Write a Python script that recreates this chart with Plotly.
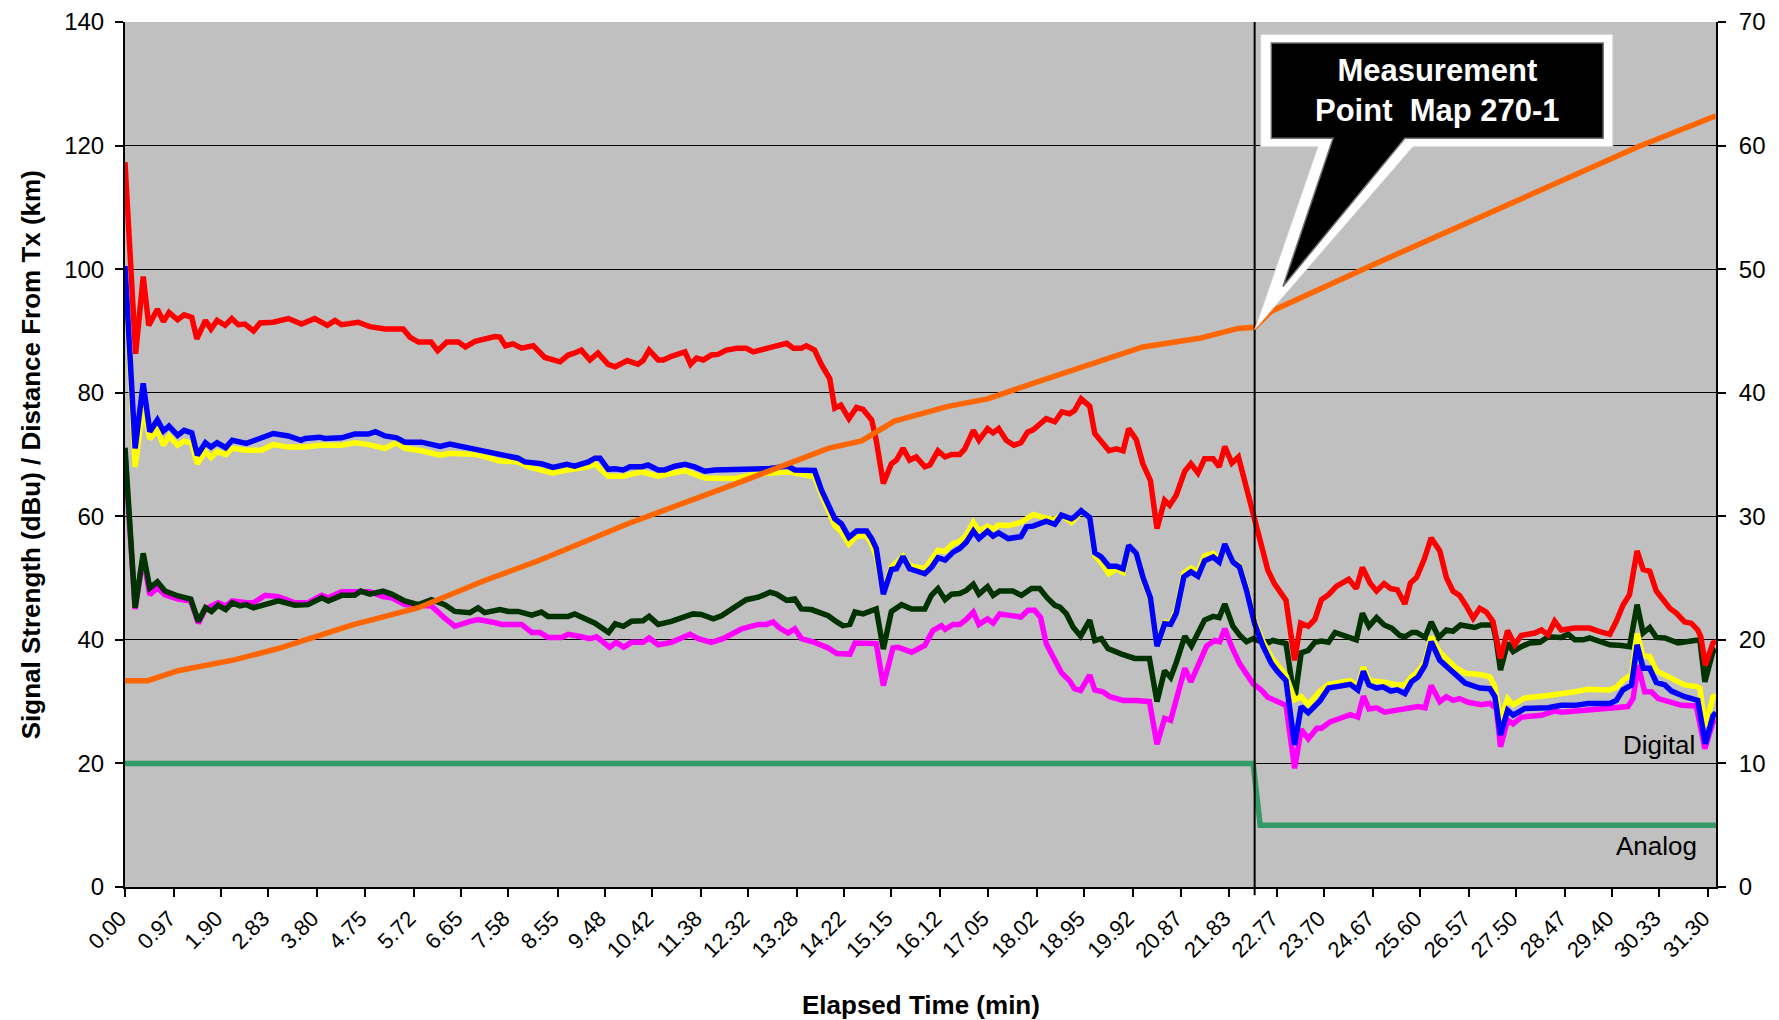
import plotly.graph_objects as go

# ---------------- axis labels ----------------
TICK_TIMES = [0.00, 0.97, 1.90, 2.83, 3.80, 4.75, 5.72, 6.65, 7.58, 8.55, 9.48, 10.42,
              11.38, 12.32, 13.28, 14.22, 15.15, 16.12, 17.05, 18.02, 18.95, 19.92,
              20.87, 21.83, 22.77, 23.70, 24.67, 25.60, 26.57, 27.50, 28.47, 29.40,
              30.33, 31.30]
TICK_TEXT = ["%.2f" % t for t in TICK_TIMES]
X_END = 31.45

# ---------------- series (time in min, signal in dBu) ----------------
RED_T = [0.00, 0.21, 0.36, 0.47, 0.64, 0.76, 0.87, 1.04, 1.17, 1.32,
         1.42, 1.59, 1.70, 1.82, 1.98, 2.11, 2.24, 2.37, 2.54, 2.67,
         2.93, 3.23, 3.49, 3.75, 4.00, 4.15, 4.28, 4.61, 4.84, 5.14,
         5.50, 5.63, 5.80, 6.05, 6.18, 6.36, 6.59, 6.73, 6.92, 7.11,
         7.31, 7.41, 7.52, 7.67, 7.84, 8.07, 8.30, 8.60, 8.76, 8.88,
         9.02, 9.19, 9.35, 9.55, 9.69, 9.93, 10.14, 10.24, 10.36, 10.54,
         10.64, 10.80, 11.07, 11.18, 11.30, 11.43, 11.59, 11.72, 11.89, 12.09,
         12.28, 12.42, 12.58, 12.84, 13.08, 13.21, 13.37, 13.47, 13.63, 13.77,
         13.93, 14.03, 14.15, 14.31, 14.46, 14.59, 14.76, 14.85, 14.99, 15.15,
         15.25, 15.38, 15.51, 15.64, 15.81, 15.91, 16.07, 16.21, 16.34, 16.50,
         16.60, 16.77, 16.88, 17.05, 17.16, 17.27, 17.42, 17.57, 17.71, 17.84,
         17.95, 18.05, 18.21, 18.38, 18.52, 18.67, 18.77, 18.90, 19.07, 19.17,
         19.30, 19.45, 19.60, 19.73, 19.84, 19.99, 20.12, 20.27, 20.40, 20.55,
         20.65, 20.78, 20.95, 21.07, 21.21, 21.34, 21.51, 21.63, 21.74, 21.88,
         22.01, 22.17, 22.30, 22.43, 22.59, 22.72, 22.95, 23.12, 23.24, 23.39,
         23.52, 23.65, 23.79, 23.95, 24.19, 24.34, 24.46, 24.61, 24.74, 24.89,
         25.02, 25.15, 25.30, 25.41, 25.53, 25.68, 25.82, 25.99, 26.12, 26.25,
         26.38, 26.52, 26.65, 26.78, 26.91, 27.04, 27.19, 27.33, 27.47, 27.60,
         27.87, 28.00, 28.13, 28.26, 28.39, 28.66, 28.95, 29.12, 29.35, 29.48,
         29.61, 29.74, 29.89, 30.01, 30.14, 30.27, 30.40, 30.54, 30.67, 30.83,
         30.96, 31.09, 31.15, 31.24, 31.39, 31.45]
RED_V = [117.3, 86.3, 98.8, 90.9, 93.5, 91.5, 93.0, 91.8, 92.6, 92.2,
         88.7, 91.7, 90.3, 91.7, 90.9, 92.0, 91.0, 91.1, 90.0, 91.3,
         91.4, 92.0, 91.1, 92.0, 90.9, 91.7, 91.0, 91.4, 90.7, 90.3,
         90.3, 89.0, 88.2, 88.2, 86.8, 88.2, 88.2, 87.4, 88.3, 88.6,
         89.1, 89.0, 87.6, 87.9, 87.2, 87.6, 85.7, 85.0, 86.1, 86.4,
         86.9, 85.3, 86.4, 84.6, 84.2, 85.2, 84.6, 85.2, 86.9, 85.3,
         85.3, 85.9, 86.6, 84.6, 85.6, 85.3, 86.1, 86.2, 86.9, 87.2,
         87.2, 86.6, 87.0, 87.5, 88.0, 87.2, 87.2, 87.6, 86.9, 84.5,
         82.3, 77.5, 78.0, 75.8, 77.6, 77.3, 75.6, 72.3, 65.3, 68.5,
         69.1, 71.0, 69.1, 69.6, 68.0, 68.3, 70.6, 69.6, 70.0, 70.0,
         70.9, 73.9, 72.3, 74.2, 73.5, 74.2, 72.3, 71.5, 71.9, 73.6,
         74.0, 74.8, 75.8, 75.3, 76.9, 76.6, 77.1, 79.0, 77.8, 73.4,
         72.0, 70.6, 70.9, 70.6, 74.2, 72.4, 68.5, 65.8, 58.0, 62.6,
         61.8, 63.4, 67.3, 68.5, 67.0, 69.3, 69.3, 68.0, 71.3, 68.6,
         69.6, 64.5, 60.7, 56.1, 51.3, 49.1, 46.4, 36.7, 42.7, 42.2,
         43.3, 46.5, 47.3, 48.7, 49.8, 48.3, 51.7, 49.2, 47.9, 49.1,
         48.3, 48.1, 45.8, 49.2, 50.1, 53.0, 56.5, 54.4, 50.1, 47.9,
         47.2, 45.4, 43.5, 45.1, 44.5, 43.0, 37.0, 41.5, 39.2, 40.7,
         41.1, 41.6, 40.8, 43.0, 41.6, 41.9, 41.9, 41.4, 40.9, 43.0,
         45.6, 47.3, 54.4, 51.4, 51.1, 47.9, 46.5, 45.1, 44.3, 42.9,
         42.7, 41.6, 40.5, 35.9, 39.5, 39.7]

BLUE_T = [0.00, 0.20, 0.36, 0.49, 0.64, 0.76, 0.87, 1.04, 1.17, 1.32,
          1.43, 1.59, 1.70, 1.82, 1.99, 2.12, 2.40, 2.70, 2.93, 3.23,
          3.48, 3.56, 3.85, 3.95, 4.28, 4.54, 4.81, 4.95, 5.14, 5.37,
          5.53, 5.86, 6.23, 6.42, 6.72, 6.95, 7.21, 7.38, 7.77, 7.90,
          8.23, 8.46, 8.73, 8.89, 9.16, 9.29, 9.39, 9.55, 9.68, 9.85,
          9.98, 10.21, 10.34, 10.54, 10.67, 10.87, 11.07, 11.26, 11.46, 11.66,
          12.45, 12.71, 12.98, 13.11, 13.24, 13.63, 13.77, 13.93, 14.03, 14.16,
          14.31, 14.46, 14.66, 14.76, 14.85, 14.99, 15.15, 15.25, 15.38, 15.51,
          15.68, 15.81, 15.94, 16.07, 16.21, 16.37, 16.50, 16.63, 16.77, 16.88,
          17.05, 17.16, 17.27, 17.46, 17.71, 17.82, 17.95, 18.21, 18.38, 18.51,
          18.71, 18.77, 18.90, 19.07, 19.17, 19.30, 19.45, 19.60, 19.73, 19.84,
          19.99, 20.12, 20.27, 20.40, 20.55, 20.67, 20.78, 20.93, 21.07, 21.21,
          21.34, 21.51, 21.63, 21.74, 21.90, 22.03, 22.17, 22.33, 22.49, 22.66,
          22.79, 22.95, 23.12, 23.25, 23.39, 23.62, 23.79, 24.05, 24.22, 24.37,
          24.48, 24.59, 24.74, 24.87, 25.02, 25.15, 25.30, 25.43, 25.56, 25.70,
          25.82, 25.99, 26.29, 26.49, 26.78, 26.98, 27.08, 27.19, 27.33, 27.44,
          27.67, 28.13, 28.39, 28.66, 28.92, 29.35, 29.48, 29.61, 29.78, 29.89,
          30.01, 30.14, 30.27, 30.44, 30.57, 30.83, 31.09, 31.24, 31.39, 31.45]
BLUE_V = [100.5, 71.0, 81.5, 73.7, 75.6, 73.8, 74.6, 73.1, 73.9, 73.5,
          69.9, 71.9, 71.2, 71.9, 71.1, 72.3, 71.8, 72.6, 73.4, 73.0,
          72.3, 72.6, 72.8, 72.6, 72.7, 73.3, 73.3, 73.7, 73.0, 72.7,
          72.0, 72.0, 71.3, 71.7, 71.2, 70.8, 70.4, 69.9, 69.4, 68.8,
          68.5, 67.9, 68.4, 68.1, 68.8, 69.4, 69.4, 67.6, 67.7, 67.5,
          68.0, 68.0, 68.3, 67.5, 67.5, 68.1, 68.4, 68.0, 67.3, 67.5,
          67.5, 67.7, 68.0, 68.1, 67.5, 67.4, 64.2, 61.5, 59.6, 58.8,
          56.6, 57.6, 57.6, 56.4, 54.8, 47.4, 51.4, 51.5, 53.5, 51.5,
          51.0, 50.7, 51.7, 53.3, 52.9, 54.2, 54.8, 55.8, 57.6, 56.4,
          57.6, 56.8, 57.3, 56.4, 56.7, 58.3, 58.4, 59.2, 58.7, 60.2,
          59.6, 59.9, 60.9, 59.8, 54.1, 53.4, 51.9, 51.9, 51.5, 55.3,
          54.0, 50.2, 46.8, 39.0, 42.6, 42.5, 44.3, 50.2, 51.0, 50.3,
          52.8, 53.4, 52.6, 55.5, 52.6, 51.8, 48.0, 42.6, 39.1, 36.2,
          34.8, 33.4, 23.0, 29.2, 28.2, 30.1, 32.2, 32.6, 32.8, 31.9,
          34.9, 32.7, 32.2, 32.4, 31.7, 31.9, 31.3, 33.2, 34.0, 35.9,
          39.7, 36.7, 34.4, 33.0, 32.2, 32.1, 30.8, 24.6, 28.6, 27.8,
          28.9, 29.0, 29.4, 29.4, 29.7, 29.7, 30.2, 31.9, 32.7, 39.2,
          35.4, 35.4, 33.1, 32.7, 31.7, 30.8, 30.2, 23.2, 27.7, 28.2]

YEL_T = [0.00, 0.20, 0.36, 0.49, 0.64, 0.76, 0.87, 1.04, 1.17, 1.32,
         1.43, 1.59, 1.70, 1.82, 1.99, 2.12, 2.40, 2.70, 2.93, 3.23,
         3.56, 3.85, 4.28, 4.54, 4.81, 5.14, 5.37, 5.53, 5.86, 6.23,
         6.42, 6.72, 6.95, 7.21, 7.38, 7.77, 7.97, 8.46, 8.73, 9.16,
         9.29, 9.55, 9.85, 10.21, 10.54, 11.07, 11.46, 12.03, 12.45, 13.11,
         13.63, 13.77, 14.03, 14.16, 14.31, 14.46, 14.66, 14.76, 14.85, 14.99,
         15.15, 15.38, 15.51, 15.81, 15.94, 16.07, 16.21, 16.37, 16.50, 16.63,
         16.77, 16.88, 17.05, 17.16, 17.27, 17.46, 17.71, 17.82, 17.95, 18.21,
         18.38, 18.51, 18.71, 18.77, 18.90, 19.07, 19.17, 19.30, 19.45, 19.60,
         19.73, 19.84, 19.99, 20.12, 20.27, 20.40, 20.55, 20.67, 20.78, 20.93,
         21.07, 21.21, 21.34, 21.51, 21.63, 21.74, 21.90, 22.03, 22.17, 22.33,
         22.49, 22.66, 22.79, 22.95, 23.12, 23.25, 23.39, 23.62, 23.79, 24.05,
         24.22, 24.37, 24.48, 24.59, 24.87, 25.15, 25.30, 25.43, 25.56, 25.70,
         25.82, 25.99, 26.29, 26.49, 26.78, 26.98, 27.08, 27.19, 27.33, 27.44,
         27.67, 28.13, 28.39, 28.66, 28.92, 29.35, 29.48, 29.61, 29.78, 29.89,
         30.01, 30.14, 30.27, 30.44, 30.57, 30.83, 31.09, 31.13, 31.24, 31.39,
         31.45]
YEL_V = [100.0, 68.0, 78.0, 72.5, 74.0, 71.5, 73.0, 71.5, 72.2, 71.8,
         68.5, 70.5, 69.5, 70.5, 70.0, 71.0, 70.7, 70.7, 71.6, 71.2,
         71.2, 71.5, 71.5, 71.9, 71.6, 71.0, 71.9, 71.0, 70.6, 69.9,
         70.2, 70.0, 70.0, 69.4, 69.0, 68.8, 68.0, 67.0, 67.5, 68.0,
         68.5, 66.5, 66.5, 67.2, 66.5, 67.4, 66.2, 66.1, 66.8, 67.2,
         66.4, 63.5, 58.5, 57.5, 55.5, 56.8, 56.8, 55.5, 53.5, 47.8,
         51.8, 53.5, 52.0, 51.5, 53.0, 54.5, 54.3, 55.6, 55.9, 57.0,
         59.0, 57.6, 58.4, 57.9, 58.6, 58.5, 59.0, 59.6, 60.3, 59.7,
         59.5, 60.2, 59.0, 59.5, 60.9, 59.8, 53.6, 52.5, 50.7, 51.5,
         50.9, 55.3, 54.0, 50.0, 46.5, 39.3, 42.8, 42.8, 44.8, 50.8,
         51.6, 51.0, 53.6, 54.0, 53.0, 55.5, 52.6, 52.0, 48.3, 43.0,
         39.8, 37.2, 36.0, 34.2, 30.3, 30.8, 29.5, 31.7, 32.8, 33.2,
         33.4, 32.5, 35.6, 33.4, 33.2, 32.7, 32.7, 34.0, 34.9, 36.5,
         40.5, 38.0, 35.6, 34.6, 34.4, 34.0, 32.4, 27.0, 30.5, 29.5,
         30.6, 31.0, 31.2, 31.6, 32.0, 31.9, 32.3, 33.4, 34.4, 41.0,
         37.3, 37.3, 35.0, 34.3, 34.0, 32.7, 32.4, 32.2, 26.0, 30.8,
         31.0]

DG_T = [0.00, 0.20, 0.36, 0.49, 0.64, 0.79, 1.05, 1.30, 1.45, 1.59,
        1.71, 1.84, 1.99, 2.12, 2.27, 2.40, 2.54, 2.77, 3.03, 3.36,
        3.62, 3.89, 4.02, 4.28, 4.54, 4.66, 4.84, 5.10, 5.27, 5.53,
        5.80, 6.06, 6.32, 6.52, 6.82, 6.98, 7.11, 7.41, 7.58, 7.77,
        8.04, 8.23, 8.36, 8.76, 8.89, 9.29, 9.56, 9.69, 9.85, 10.01,
        10.24, 10.36, 10.54, 10.80, 11.23, 11.39, 11.63, 11.79, 11.99, 12.28,
        12.52, 12.75, 12.88, 13.08, 13.24, 13.37, 13.57, 13.90, 14.07, 14.19,
        14.33, 14.43, 14.59, 14.85, 14.99, 15.15, 15.35, 15.55, 15.81, 15.94,
        16.07, 16.21, 16.34, 16.50, 16.63, 16.77, 16.88, 17.05, 17.16, 17.29,
        17.55, 17.72, 17.92, 18.08, 18.24, 18.38, 18.48, 18.61, 18.74, 18.89,
        19.07, 19.17, 19.30, 19.43, 19.70, 19.96, 20.25, 20.40, 20.55, 20.67,
        20.78, 20.95, 21.08, 21.21, 21.34, 21.51, 21.63, 21.74, 21.90, 22.03,
        22.17, 22.30, 22.43, 22.56, 22.69, 22.95, 23.12, 23.25, 23.39, 23.52,
        23.65, 23.79, 23.92, 24.05, 24.22, 24.34, 24.46, 24.59, 24.74, 24.89,
        25.04, 25.20, 25.30, 25.44, 25.53, 25.70, 25.82, 25.97, 26.12, 26.25,
        26.40, 26.68, 26.81, 27.04, 27.11, 27.19, 27.33, 27.44, 27.60, 27.77,
        27.97, 28.13, 28.39, 28.53, 28.66, 28.82, 28.95, 29.12, 29.35, 29.58,
        29.74, 29.89, 30.01, 30.14, 30.27, 30.44, 30.70, 30.96, 31.13, 31.23,
        31.39, 31.45]
DG_V = [71.1, 45.2, 54.0, 48.4, 49.4, 47.9, 47.1, 46.6, 43.0, 45.2,
        44.6, 45.6, 44.9, 46.0, 45.5, 45.7, 45.2, 45.8, 46.3, 45.6,
        45.7, 46.8, 46.3, 47.2, 47.2, 47.9, 47.4, 47.9, 47.4, 46.3,
        45.7, 46.5, 45.7, 44.6, 44.4, 45.2, 44.4, 44.9, 44.6, 44.6,
        44.0, 44.5, 43.8, 43.8, 44.2, 42.7, 41.2, 42.6, 42.2, 43.0,
        43.1, 43.8, 42.5, 43.0, 44.2, 44.1, 43.4, 43.9, 45.0, 46.5,
        46.9, 47.7, 47.4, 46.4, 46.6, 45.0, 44.9, 43.9, 42.9, 42.3,
        42.5, 44.5, 44.2, 45.0, 38.5, 44.6, 45.7, 45.0, 45.0, 47.2,
        48.3, 46.5, 47.4, 47.5, 48.0, 49.0, 47.4, 48.6, 47.2, 47.9,
        47.9, 47.2, 48.3, 48.3, 46.7, 45.6, 45.3, 44.2, 42.1, 40.6,
        43.2, 39.9, 40.2, 38.6, 37.7, 37.0, 37.0, 30.0, 35.0, 33.9,
        36.3, 40.6, 39.0, 41.0, 43.2, 43.8, 43.6, 45.8, 42.2, 40.8,
        39.7, 40.2, 39.9, 39.4, 39.9, 39.4, 30.2, 37.9, 38.3, 39.6,
        39.8, 39.6, 41.2, 40.9, 40.3, 40.0, 44.3, 42.2, 43.6, 42.4,
        41.9, 40.7, 40.5, 41.2, 41.2, 40.4, 42.9, 40.4, 41.6, 41.4,
        42.4, 42.0, 42.4, 42.4, 39.7, 35.1, 39.5, 38.1, 38.9, 39.5,
        39.6, 40.5, 40.4, 40.9, 40.0, 40.0, 40.3, 39.8, 39.2, 39.1,
        38.9, 45.7, 41.1, 42.0, 40.4, 40.3, 39.5, 39.8, 40.0, 33.2,
        38.1, 38.5]

MAG_T = [0.00, 0.20, 0.36, 0.49, 0.64, 0.79, 1.05, 1.30, 1.45, 1.59,
         1.71, 1.84, 1.99, 2.12, 2.40, 2.54, 2.77, 3.03, 3.36, 3.62,
         3.89, 4.02, 4.28, 4.54, 4.84, 5.10, 5.27, 5.53, 5.80, 6.06,
         6.32, 6.52, 6.82, 6.98, 7.25, 7.45, 7.84, 8.04, 8.20, 8.36,
         8.63, 8.76, 9.02, 9.19, 9.32, 9.58, 9.71, 9.86, 10.01, 10.24,
         10.36, 10.54, 10.80, 11.17, 11.33, 11.59, 11.82, 12.19, 12.52, 12.68,
         12.81, 12.94, 13.11, 13.24, 13.37, 13.63, 13.90, 14.07, 14.33, 14.43,
         14.85, 14.99, 15.18, 15.28, 15.55, 15.81, 15.97, 16.14, 16.21, 16.37,
         16.50, 16.63, 16.77, 16.88, 17.05, 17.16, 17.29, 17.55, 17.71, 17.85,
         17.98, 18.10, 18.21, 18.35, 18.51, 18.67, 18.77, 18.89, 19.07, 19.17,
         19.33, 19.47, 19.73, 19.99, 20.25, 20.40, 20.55, 20.67, 20.78, 20.95,
         21.07, 21.21, 21.38, 21.54, 21.64, 21.74, 21.87, 22.03, 22.17, 22.30,
         22.46, 22.59, 22.79, 22.95, 23.12, 23.25, 23.39, 23.56, 23.65, 23.82,
         24.05, 24.22, 24.37, 24.48, 24.59, 24.74, 24.90, 25.17, 25.43, 25.56,
         25.70, 25.82, 25.99, 26.12, 26.25, 26.38, 26.55, 26.81, 26.98, 27.11,
         27.19, 27.33, 27.44, 27.60, 28.00, 28.26, 28.39, 28.66, 28.92, 29.19,
         29.71, 29.81, 29.91, 30.04, 30.17, 30.31, 30.50, 30.77, 31.06, 31.23,
         31.39, 31.45]
MAG_V = [70.0, 45.0, 53.5, 47.3, 48.4, 47.3, 46.6, 46.3, 42.7, 45.0,
         45.5, 46.0, 45.5, 46.3, 46.0, 46.0, 47.2, 47.0, 46.0, 46.0,
         47.2, 46.8, 47.8, 47.8, 47.8, 47.0, 46.8, 45.7, 45.5, 45.5,
         43.5, 42.2, 43.0, 43.3, 42.9, 42.5, 42.5, 41.2, 41.2, 40.4,
         40.4, 40.9, 40.5, 40.2, 40.5, 38.8, 39.6, 38.8, 39.6, 39.6,
         40.3, 39.2, 39.6, 40.9, 40.2, 39.6, 40.2, 41.8, 42.5, 42.5,
         42.9, 41.9, 41.1, 41.8, 40.2, 39.6, 38.7, 37.8, 37.7, 39.5,
         39.4, 32.6, 38.7, 38.8, 38.0, 39.1, 41.5, 42.3, 41.7, 42.5,
         42.5, 43.3, 44.5, 42.5, 43.4, 42.7, 44.2, 43.9, 43.7, 44.8,
         44.8, 43.6, 39.4, 37.2, 34.7, 33.4, 32.1, 31.8, 34.3, 31.9,
         31.6, 30.8, 30.2, 30.2, 30.0, 23.1, 27.3, 27.0, 30.0, 35.4,
         33.2, 35.9, 39.0, 39.9, 39.7, 41.8, 39.0, 36.2, 34.3, 32.9,
         31.9, 30.7, 30.0, 29.4, 19.2, 25.5, 24.0, 25.7, 25.7, 26.7,
         27.4, 27.9, 27.5, 30.9, 28.8, 29.0, 28.3, 28.6, 29.0, 29.2,
         29.0, 32.6, 30.0, 30.8, 30.2, 30.5, 29.9, 29.5, 29.7, 28.9,
         22.7, 27.0, 26.4, 27.5, 27.8, 28.5, 28.3, 28.5, 28.8, 28.9,
         29.2, 30.5, 35.9, 31.6, 31.6, 30.5, 30.1, 29.4, 29.3, 22.4,
         26.7, 27.0]

# distance from transmitter (km, right axis)
DIST_T = [0.00, 0.45, 1.05, 2.18, 3.03, 4.48, 5.80, 7.11, 8.17, 9.94,
          12.12, 13.24, 13.90, 14.56, 15.21, 16.27, 17.05, 18.05, 20.12, 21.24,
          22.00, 22.33, 22.66, 24.64, 26.61, 28.59, 29.91, 31.45]
DIST_KM = [16.7, 16.7, 17.5, 18.4, 19.3, 21.2, 22.6, 24.8, 26.4, 29.4,
           32.7, 34.5, 35.5, 36.1, 37.7, 38.9, 39.5, 40.9, 43.7, 44.4,
           45.2, 45.3, 46.6, 50.3, 53.9, 57.4, 59.9, 62.4]

# transmission mode indicator (Digital -> Analog)
MODE_T = [0.00, 22.30, 22.44, 31.45]
MODE_V = [20, 20, 10, 10]

MEAS_T = 22.33          # measurement point (vertical marker)
MEAS_V = 90.2           # where the callout points (dBu scale)

FONT = "Liberation Sans, Arial, sans-serif"

fig = go.Figure()

def add_line(t, v, color, yaxis="y", width=5.5):
    fig.add_trace(go.Scatter(x=t, y=v, mode="lines", yaxis=yaxis,
                             line=dict(color=color, width=width),
                             hoverinfo="skip", showlegend=False))

add_line(MODE_T, MODE_V, "#339966", width=5.5)
add_line(MAG_T, MAG_V, "#FF00FF")
add_line(DG_T, DG_V, "#003300")
add_line(YEL_T, YEL_V, "#FFFF00")
add_line(BLUE_T, BLUE_V, "#0000FF")
add_line(RED_T, RED_V, "#FF0000")
add_line(DIST_T, DIST_KM, "#FF6600", yaxis="y2")

# callout geometry (data units)
BOX_OUT = (22.45, 29.41, 119.8, 138.0)
TAIL_OUT = (23.58, 25.46)
BOX_IN = (22.66, 29.22, 121.2, 136.6)
TAIL_IN = (23.88, 25.30, 22.89, 97.2)

def callout_path(x0, x1, y0, y1, tl, tr, tipx, tipy):
    return (f"M {x0},{y1} L {x1},{y1} L {x1},{y0} L {tr},{y0} "
            f"L {tipx},{tipy} L {tl},{y0} L {x0},{y0} Z")

shapes = [
    dict(type="line", xref="x", yref="paper", x0=MEAS_T, x1=MEAS_T,
         y0=-0.0095, y1=1, line=dict(color="black", width=2)),
    dict(type="path", xref="x", yref="y",
         path=callout_path(BOX_OUT[0], BOX_OUT[1], BOX_OUT[2], BOX_OUT[3],
                           TAIL_OUT[0], TAIL_OUT[1], MEAS_T, MEAS_V),
         fillcolor="white", line=dict(color="#D0D0D0", width=1)),
    dict(type="path", xref="x", yref="y",
         path=callout_path(BOX_IN[0], BOX_IN[1], BOX_IN[2], BOX_IN[3],
                           TAIL_IN[0], TAIL_IN[1], TAIL_IN[2], TAIL_IN[3]),
         fillcolor="black", line=dict(color="#707070", width=1.5)),
]

annotations = [
    dict(x=(BOX_IN[0] + BOX_IN[1]) / 2, y=(BOX_IN[2] + BOX_IN[3]) / 2,
         xref="x", yref="y", showarrow=False, xanchor="center", yanchor="middle",
         text="<b>Measurement<br>Point\u00a0 Map 270-1</b>",
         font=dict(family=FONT, size=31, color="white"), align="center"),
    dict(x=30.33, y=23.0, xref="x", yref="y", showarrow=False, text="Digital",
         xanchor="center", yanchor="middle",
         font=dict(family=FONT, size=26, color="black")),
    dict(x=30.27, y=6.6, xref="x", yref="y", showarrow=False, text="Analog",
         xanchor="center", yanchor="middle",
         font=dict(family=FONT, size=26, color="black")),
    dict(x=-0.0592, y=0.5, xref="paper", yref="paper", showarrow=False,
         xanchor="center", yanchor="middle", textangle=-90,
         text="<b>Signal Strength (dBu) / Distance From Tx (km)</b>",
         font=dict(family=FONT, size=26, color="black")),
    dict(x=0.5, y=-0.136, xref="paper", yref="paper", showarrow=False,
         xanchor="center", yanchor="middle",
         text="<b>Elapsed Time (min)</b>",
         font=dict(family=FONT, size=26, color="black")),
]

fig.update_layout(
    width=1779, height=1020,
    margin=dict(l=117, r=71, t=14, b=141, autoexpand=False),
    paper_bgcolor="white", plot_bgcolor="#C0C0C0",
    font=dict(family=FONT, color="black"),
    showlegend=False,
    shapes=shapes, annotations=annotations,
    xaxis=dict(range=[0, X_END], tickmode="array", tickvals=TICK_TIMES,
               ticktext=TICK_TEXT, tickangle=-45, tickfont=dict(size=22),
               ticks="outside", ticklen=8, tickwidth=2, tickcolor="black",
               showline=True, linecolor="black", linewidth=2,
               showgrid=False, zeroline=False, automargin=False,
               ticklabelshift=-5),
    yaxis=dict(range=[0, 140], tickmode="linear", tick0=0, dtick=20,
               tickfont=dict(size=24), ticks="outside", ticklen=8, tickwidth=2,
               tickcolor="black", showline=True, linecolor="black", linewidth=2,
               showgrid=True, gridcolor="black", gridwidth=1.4, zeroline=False,
               ticklabelstandoff=6, automargin=False),
    yaxis2=dict(range=[0, 70], tickmode="linear", tick0=0, dtick=10,
                overlaying="y", side="right", tickfont=dict(size=24),
                ticks="outside", ticklen=8, tickwidth=2, tickcolor="black",
                showline=True, linecolor="black", linewidth=2,
                showgrid=False, zeroline=False, ticklabelstandoff=8,
                automargin=False),
)

fig.write_html("out.html")
